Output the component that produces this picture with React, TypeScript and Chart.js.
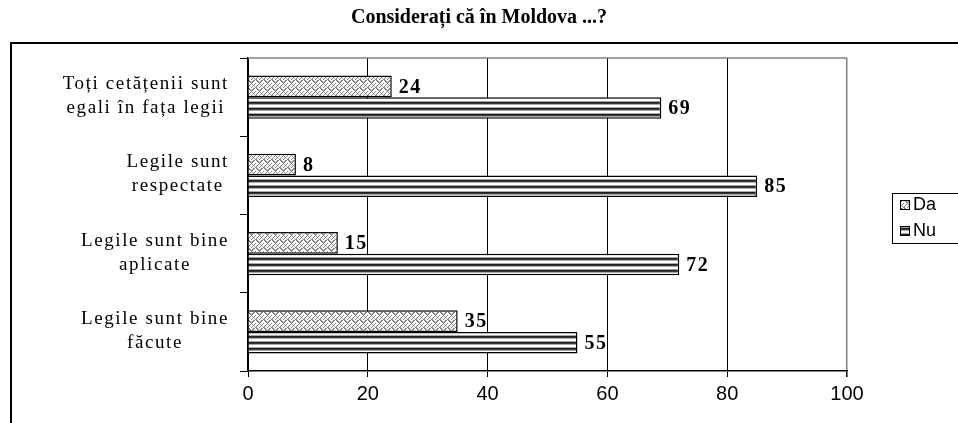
import React, { useEffect, useRef } from "react";
import { Chart, registerables } from "chart.js";

Chart.register(...registerables);

const chartTitle = "Considerați că în Moldova ...?";
const categories: string[][] = [
  ["Toți cetățenii sunt", "egali în fața legii"],
  ["Legile sunt", "respectate"],
  ["Legile sunt bine", "aplicate"],
  ["Legile sunt bine", "făcute"],
];
const seriesNames = ["Da", "Nu"];
const daValues = [24, 8, 15, 35];
const nuValues = [69, 85, 72, 55];
const xMin = 0;
const xMax = 100;
const xStep = 20;

function makeWeavePattern(ctx: CanvasRenderingContext2D): CanvasPattern | string {
  const c = document.createElement("canvas");
  c.width = 8;
  c.height = 8;
  const g = c.getContext("2d");
  if (!g) return "#ccc";
  g.fillStyle = "#ffffff";
  g.fillRect(0, 0, 8, 8);
  const rows = [
    "xx...xx.",
    ".xx.xx..",
    "..xxx...",
    "...x...x",
    "..x.x.x.",
    ".x...x..",
    "x...x.x.",
    "x..x...x",
  ];
  g.fillStyle = "#858585";
  rows.forEach((r, y) => {
    for (let x = 0; x < 8; x++) if (r[x] === "x") g.fillRect(x, y, 1, 1);
  });
  return ctx.createPattern(c, "repeat") || "#ccc";
}

function makeStripePattern(ctx: CanvasRenderingContext2D): CanvasPattern | string {
  const c = document.createElement("canvas");
  c.width = 4;
  c.height = 6;
  const g = c.getContext("2d");
  if (!g) return "#555";
  const cols = ["#1e1e1e", "#3a3a3a", "#a8a8a8", "#ffffff", "#ffffff", "#a8a8a8"];
  cols.forEach((col, y) => {
    g.fillStyle = col;
    g.fillRect(0, y, 4, 1);
  });
  return ctx.createPattern(c, "repeat") || "#555";
}

export default function App() {
  const ref = useRef<HTMLCanvasElement | null>(null);

  useEffect(() => {
    document.body.style.margin = "0";
    const canvas = ref.current;
    if (!canvas) return;
    const ctx = canvas.getContext("2d");
    if (!ctx) return;
    const daFill = makeWeavePattern(ctx);
    const nuFill = makeStripePattern(ctx);

    const decor = {
      id: "decor",
      beforeDraw(chart: any) {
        const c = chart.ctx as CanvasRenderingContext2D;
        c.save();
        c.fillStyle = "#ffffff";
        c.fillRect(0, 0, chart.width, chart.height);
        c.strokeStyle = "#000";
        c.lineWidth = 2;
        c.strokeRect(11, 43, chart.width + 10, chart.height + 10);
        c.fillStyle = "#000";
        c.font = "bold 20px 'Liberation Serif'";
        c.textAlign = "center";
        c.textBaseline = "middle";
        c.fillText(chartTitle, 479, 18);
        c.restore();
      },
      afterDraw(chart: any) {
        const c = chart.ctx as CanvasRenderingContext2D;
        const area = chart.chartArea;
        const yScale = chart.scales.y;
        c.save();
        // top plot border
        c.strokeStyle = "#808080";
        c.lineWidth = 1.5;
        c.beginPath();
        c.moveTo(area.left, area.top);
        c.lineTo(area.right, area.top);
        c.stroke();

        // category labels
        c.fillStyle = "#000";
        c.font = "19px 'Liberation Serif'";
        (c as any).letterSpacing = "1.6px";
        c.textAlign = "center";
        c.textBaseline = "middle";
        categories.forEach((lines, i) => {
          const cy = yScale.getPixelForValue(i) - 1;
          const w = Math.max(...lines.map((l) => c.measureText(l).width));
          const cx = 229 - w / 2;
          const lh = 24;
          lines.forEach((l, j) => {
            c.fillText(l, cx, cy + (j - (lines.length - 1) / 2) * lh);
          });
        });

        // data labels
        c.font = "bold 20px 'Liberation Serif'";
        (c as any).letterSpacing = "1.5px";
        c.textAlign = "left";
        chart.data.datasets.forEach((ds: any, di: number) => {
          const meta = chart.getDatasetMeta(di);
          meta.data.forEach((bar: any, i: number) => {
            c.fillText(String(ds.data[i]), bar.x + 7, bar.y + 1);
          });
        });

        // legend
        (c as any).letterSpacing = "0px";
        c.strokeStyle = "#000";
        c.lineWidth = 1;
        c.strokeRect(892.5, 193.5, 90, 50);
        const fills = [daFill, nuFill];
        c.font = "18px 'Liberation Sans'";
        c.textAlign = "left";
        seriesNames.forEach((name, i) => {
          const y = 205 + i * 26;
          c.fillStyle = fills[i] as any;
          c.fillRect(900, y - 5, 10, 10);
          c.strokeStyle = "#000";
          c.strokeRect(900.5, y - 4.5, 9, 9);
          c.fillStyle = "#000";
          c.fillText(name, 913, y);
        });
        c.restore();
      },
    };

    const chart = new Chart(ctx, {
      type: "bar",
      data: {
        labels: categories.map((l) => l.join(" ")),
        datasets: [
          {
            label: seriesNames[0],
            data: daValues,
            backgroundColor: daFill as any,
            borderColor: "#000",
            borderWidth: 1.5,
            categoryPercentage: 0.55,
            barPercentage: 1,
          },
          {
            label: seriesNames[1],
            data: nuValues,
            backgroundColor: nuFill as any,
            borderColor: "#000",
            borderWidth: 1.5,
            categoryPercentage: 0.55,
            barPercentage: 1,
          },
        ],
      },
      options: {
        indexAxis: "y",
        responsive: false,
        animation: false,
        devicePixelRatio: 1,
        layout: { padding: { top: 58, right: 111, left: 0, bottom: 0 } },
        plugins: {
          legend: { display: false },
          title: { display: false },
          tooltip: { enabled: false },
        },
        scales: {
          x: {
            min: xMin,
            max: xMax,
            ticks: {
              stepSize: xStep,
              color: "#000",
              font: { family: "'Liberation Sans'", size: 20 },
              padding: 5,
            },
            grid: {
              color: (c: any) => (c.tick && c.tick.value === xMax ? "#808080" : "#000"),
              lineWidth: (c: any) => (c.tick && c.tick.value === xMax ? 1.5 : 1),
              tickLength: 6,
              tickColor: "#000",
            },
            border: { color: "#000", width: 1.5 },
            afterFit: (s: any) => {
              s.height = 52;
            },
          },
          y: {
            ticks: { display: false },
            grid: {
              offset: true,
              drawOnChartArea: false,
              drawTicks: true,
              tickLength: 8,
              color: "#000",
            },
            border: { color: "#000", width: 1.5 },
            afterFit: (s: any) => {
              s.width = 248;
            },
          },
        },
      },
      plugins: [decor],
    } as any);

    return () => chart.destroy();
  }, []);

  return <canvas ref={ref} width={958} height={423} style={{ display: "block", width: 958, height: 423 }} />;
}
